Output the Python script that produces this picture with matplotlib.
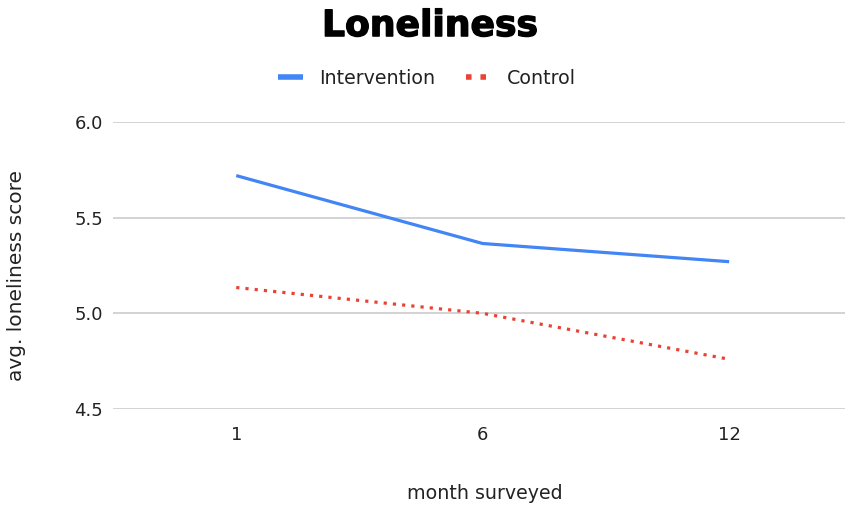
import matplotlib
matplotlib.use("Agg")
import matplotlib.pyplot as plt
from matplotlib.lines import Line2D
import matplotlib.patheffects as pe

months = ["1", "6", "12"]
intervention = [5.72, 5.365, 5.27]
control = [5.135, 5.0, 4.76]
yticks = [4.5, 5.0, 5.5, 6.0]

plt.rcParams['font.family'] = ['DejaVu Sans']

TXT = "#222222"
fig = plt.figure(figsize=(8.47, 5.08), dpi=100)
ax = fig.add_axes([0.1334, 0.1949, 0.8642, 0.5649])

x = list(range(len(months)))
ax.plot(x, intervention, color="#4285F4", lw=2.3, solid_capstyle="butt", label="Intervention")
ax.plot(x, control, color="#EA4335", lw=2.3, linestyle=(0, (1, 1.9)), label="Control")

ax.set_xlim(-0.5, 2.47)
ax.set_ylim(4.5, 6.0)
ax.set_yticks(yticks)
ax.set_yticklabels([f"{v:.1f}" for v in yticks])
ax.set_xticks(x)
ax.set_xticklabels(months)
ax.grid(axis="y", color="#cccccc", lw=1.2)
ax.set_axisbelow(True)
for s in ax.spines.values():
    s.set_visible(False)
ax.tick_params(axis="both", length=0, labelsize=13, labelcolor=TXT)
ax.tick_params(axis="y", pad=7)
ax.tick_params(axis="x", pad=12)

fig.text(0.5726, 0.0295, "month surveyed", ha="center", va="center", fontsize=13.7, color=TXT)
fig.text(0.019, 0.457, "avg. loneliness score", ha="center", va="center", rotation=90,
         fontsize=14.5, color=TXT)

fig.text(0.5077, 0.929, "Loneliness", ha="center", va="baseline", fontsize=26,
         fontweight="bold", color="black",
         path_effects=[pe.withStroke(linewidth=1.0, foreground="black")])

handles = [Line2D([0], [0], color="#4285F4", lw=4, solid_capstyle="butt"),
           Line2D([0], [0], color="#EA4335", lw=4, linestyle=(0, (1, 1.6)))]
fig.legend(handles, ["Intervention", "Control"], loc="center", bbox_to_anchor=(0.504, 0.846),
           ncol=2, frameon=False, fontsize=13.7, handlelength=1.3, handletextpad=0.84,
           columnspacing=1.6, labelcolor=TXT)

fig.savefig("out.png", dpi=100)
